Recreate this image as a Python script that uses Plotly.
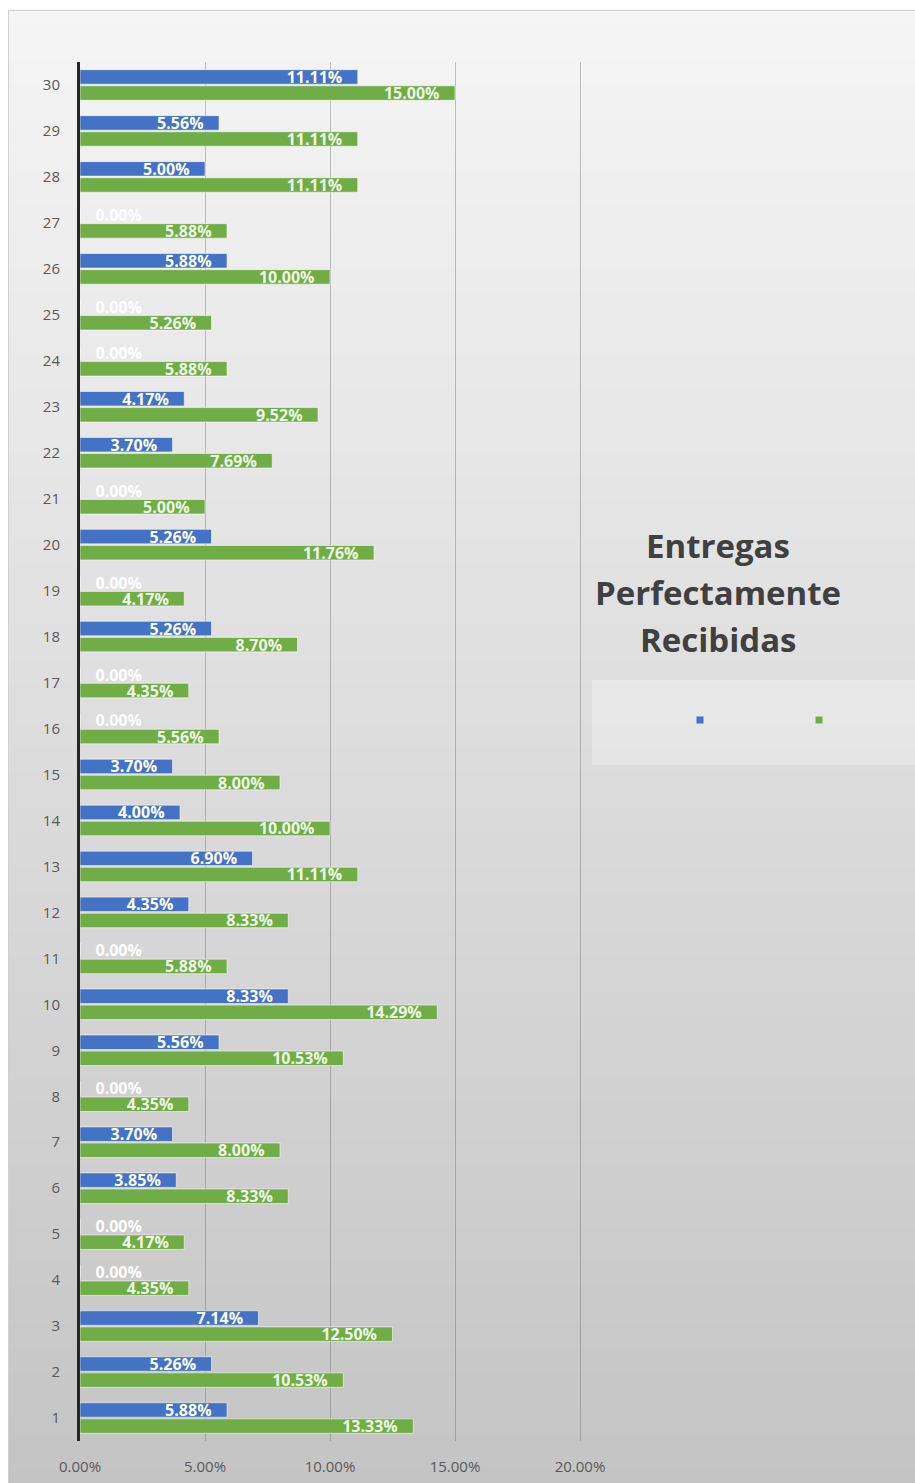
import plotly.graph_objects as go

# ---------------- data ----------------
categorias = list(range(1, 31))
serie_azul = [5.88, 5.26, 7.14, 0.00, 0.00, 3.85, 3.70, 0.00, 5.56, 8.33,
              0.00, 4.35, 6.90, 4.00, 3.70, 0.00, 0.00, 5.26, 0.00, 5.26,
              0.00, 3.70, 4.17, 0.00, 0.00, 5.88, 0.00, 5.00, 5.56, 11.11]
serie_verde = [13.33, 10.53, 12.50, 4.35, 4.17, 8.33, 8.00, 4.35, 10.53, 14.29,
               5.88, 8.33, 11.11, 10.00, 8.00, 5.56, 4.35, 8.70, 4.17, 11.76,
               5.00, 7.69, 9.52, 5.88, 5.26, 10.00, 5.88, 11.11, 11.11, 15.00]
x_ticks = [0, 5, 10, 15, 20]
x_tick_labels = ["0.00%", "5.00%", "10.00%", "15.00%", "20.00%"]
titulo = ["Entregas", "Perfectamente", "Recibidas"]

# ---------------- styles ----------------
W, H = 915, 1483
ML, MR, MT, MB = 80, 332, 62, 42
PW, PH = W - ML - MR, H - MT - MB
AZUL = "#4472C4"
VERDE = "#70AD47"
FONT = "Open Sans"
NB = "\u00a0"


def px_x(p):  # pixel -> paper (plot-area relative)
    return (p - ML) / PW


def px_y(p):
    return (H - MB - p) / PH


def make_bar(vals, color, txtcolor, name):
    pos = ["outside" if v == 0 else "inside" for v in vals]
    tmpl = [(NB * 3 + "%{x:.2f}%") if v == 0 else ("%{x:.2f}%" + NB * 3) for v in vals]
    return go.Bar(
        y=categorias, x=vals, orientation="h", name=name,
        marker=dict(color=color, line=dict(color="rgba(255,255,255,0.55)", width=1)),
        textposition=pos, texttemplate=tmpl, insidetextanchor="end",
        textangle=0, constraintext="none",
        insidetextfont=dict(color=txtcolor, size=16, family=FONT, weight="bold"),
        outsidetextfont=dict(color="#ffffff", size=16, family=FONT, weight="bold"),
        cliponaxis=False, showlegend=False, hoverinfo="skip",
    )


fig = go.Figure()
# green first so it sits below the blue one inside each group
fig.add_trace(make_bar(serie_verde, VERDE, "#eef8e6", "Serie 2"))
fig.add_trace(make_bar(serie_azul, AZUL, "#ffffff", "Serie 1"))

# legend-only markers (no text, like the reference)
for c in [AZUL, VERDE]:
    fig.add_trace(go.Scatter(x=[None], y=[None], mode="markers", name="",
                             marker=dict(symbol="square", size=7, color=c),
                             showlegend=True, hoverinfo="skip"))

# ---------------- background gradient ----------------
shapes = []
top_px, bot_px, left_px = 10, H, 8
c_top, c_bot = 245, 196
N = 120
for i in range(N):
    y0 = top_px + (bot_px - top_px) * i / N
    y1 = min(top_px + (bot_px - top_px) * (i + 1) / N + 0.8, H)
    t = (i + 0.5) / N
    g = round(c_top + (c_bot - c_top) * t)
    col = f"rgb({g},{g},{g})"
    shapes.append(dict(type="rect", xref="paper", yref="paper", layer="below",
                       x0=px_x(left_px), x1=px_x(W), y0=px_y(y1), y1=px_y(y0),
                       fillcolor=col, line=dict(width=0)))
# outer border
shapes.append(dict(type="rect", xref="paper", yref="paper", layer="below",
                   x0=px_x(left_px + 0.5), x1=px_x(W + 2), y0=px_y(H + 2), y1=px_y(top_px + 0.5),
                   fillcolor="rgba(0,0,0,0)", line=dict(color="#d0d0d0", width=1)))
# legend box
shapes.append(dict(type="rect", xref="paper", yref="paper", layer="below",
                   x0=px_x(592), x1=px_x(W), y0=px_y(765), y1=px_y(680),
                   fillcolor="rgba(255,255,255,0.28)", line=dict(width=0)))

annotations = []
for i, line in enumerate(titulo):
    annotations.append(dict(text=line, xref="paper", yref="paper",
                            x=px_x(718), y=px_y(545 + i * 47.5),
                            xanchor="center", yanchor="middle", showarrow=False,
                            font=dict(family=FONT, size=33, color="#404040", weight="bold")))

fig.update_layout(
    width=W, height=H,
    margin=dict(l=ML, r=MR, t=MT, b=MB, autoexpand=False),
    paper_bgcolor="#ffffff", plot_bgcolor="rgba(0,0,0,0)",
    barmode="group", bargap=0.3, bargroupgap=0.1,
    shapes=shapes, annotations=annotations,
    showlegend=True,
    legend=dict(orientation="h", xref="container", yref="container",
                x=(700 - 20) / W, y=1 - 720 / H, xanchor="left", yanchor="middle",
                entrywidth=74, entrywidthmode="pixels", bgcolor="rgba(0,0,0,0)",
                font=dict(size=12)),
    xaxis=dict(range=[0, 20.12], tickvals=x_ticks, ticktext=x_tick_labels,
               showgrid=True, gridcolor="rgba(90,90,90,0.35)", gridwidth=1,
               zeroline=False, showline=False, ticks="",
               ticklabelstandoff=15,
               tickfont=dict(family=FONT, size=15, color="#595959")),
    yaxis=dict(range=[0.5, 30.5], tickvals=categorias, ticktext=[str(c) for c in categorias],
               showgrid=False, zeroline=False, showline=True, linecolor="#262626", linewidth=3,
               ticks="", ticklabelstandoff=14,
               tickfont=dict(family=FONT, size=15, color="#595959")),
    font=dict(family=FONT),
)

fig.write_html("out.html")
